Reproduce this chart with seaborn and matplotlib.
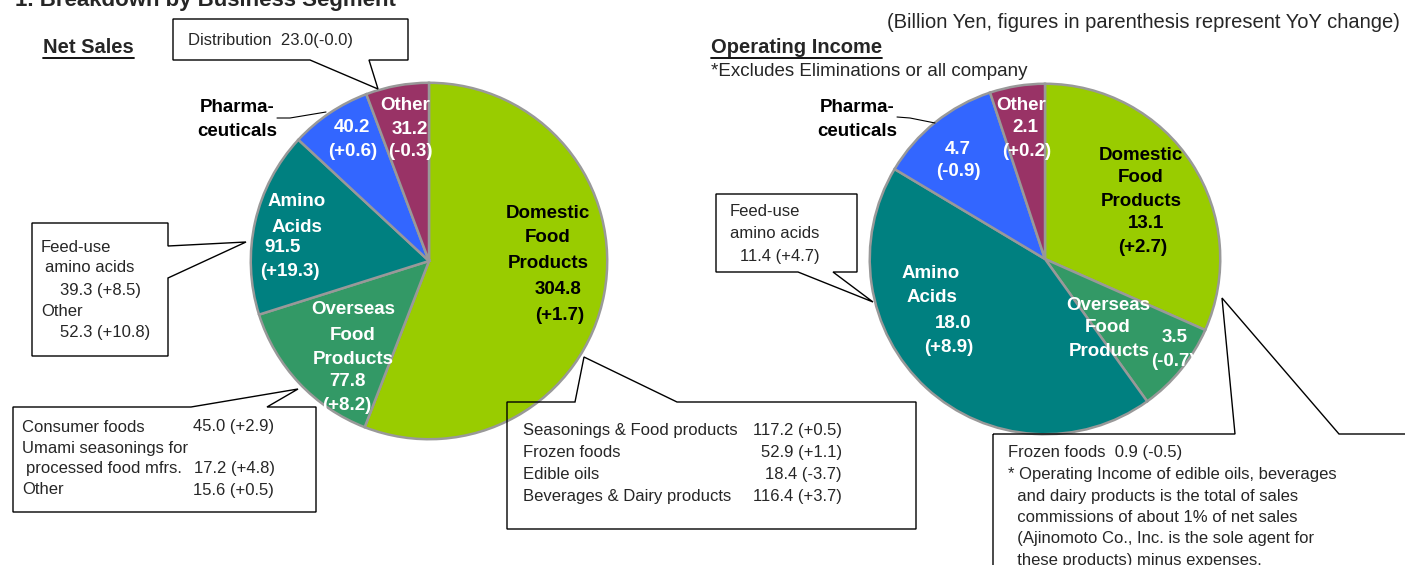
import numpy as np
import matplotlib
matplotlib.use("Agg")
import matplotlib.pyplot as plt
from matplotlib.patches import Polygon
import seaborn as sns

# ---- data (billion yen, YoY change) ----
segments = ["Domestic\nFood\nProducts", "Overseas\nFood\nProducts", "Amino\nAcids",
            "Pharma-\nceuticals", "Other"]
sales = [304.8, 77.8, 91.5, 40.2, 31.2]
sales_yoy = [1.7, 8.2, 19.3, 0.6, -0.3]
income = [13.1, 3.5, 18.0, 4.7, 2.1]
income_yoy = [2.7, -0.7, 8.9, -0.9, 0.2]
seg_colors = ["#99CC00", "#339966", "#008080", "#3366FF", "#993366"]

distribution = [23.0, -0.0]

amino_names = ["Feed-use\n amino acids", "Other"]
amino_sales = [39.3, 52.3]
amino_yoy = [8.5, 10.8]

overseas_names = ["Consumer foods", "Umami seasonings for\n processed food mfrs.", "Other"]
overseas_sales = [45.0, 17.2, 15.6]
overseas_yoy = [2.9, 4.8, 0.5]

domestic_names = ["Seasonings & Food products", "Frozen foods", "Edible oils",
                  "Beverages & Dairy products"]
domestic_sales = [117.2, 52.9, 18.4, 116.4]
domestic_yoy = [0.5, 1.1, -3.7, 3.7]

feed_income = [11.4, 4.7]
frozen_income = [0.9, -0.5]
income_note = ["* Operating Income of edible oils, beverages",
               "  and dairy products is the total of sales",
               "  commissions of about 1% of net sales",
               "  (Ajinomoto Co., Inc. is the sole agent for",
               "  these products) minus expenses."]

sns.set_theme(style="white")
plt.rcParams["font.family"] = ["Liberation Sans", "DejaVu Sans"]

W, H = 1405, 565
fig = plt.figure(figsize=(W / 100, H / 100), dpi=100)
palette = sns.color_palette(seg_colors)


def val(v, d):
    return f"{v:.1f}", f"({d:+.1f})"


def pie_axes(cx, cy, r, values):
    ax = fig.add_axes([(cx - r) / W, 1 - (cy + r) / H, 2 * r / W, 2 * r / H])
    ax.pie(values, colors=palette, startangle=90, counterclock=False,
           wedgeprops=dict(edgecolor="#999999", linewidth=1.8))
    ax.set_xlim(-1.01, 1.01)
    ax.set_ylim(-1.01, 1.01)
    ax.set_axis_off()
    return ax


pie_axes(429, 261, 180, sales)
pie_axes(1045, 259, 177, income)

# overlay in pixel coordinates for labels and callouts
ov = fig.add_axes([0, 0, 1, 1], zorder=5)
ov.set_xlim(0, W)
ov.set_ylim(H, 0)
ov.set_axis_off()
ov.patch.set_alpha(0)

bold = dict(fontsize=13.5, fontweight="bold", ha="center", va="center")

# in-slice label positions (pixel) for name lines, value, change
left_pos = [
    [(548, 213), (548, 238), (548, 263), (558, 290), (560, 315)],
    [(353, 310), (353, 335), (353, 360), (347, 381), (347, 405)],
    [(297, 202), (297, 227), (283, 247), (290, 271)],
    [(237, 107), (237, 131), (352, 127), (353, 151)],
    [(405, 105), (410, 130), (410, 152)],
]
right_pos = [
    [(1141, 155), (1141, 178), (1141, 201), (1146, 223), (1143, 247)],
    [(1108, 306), (1108, 328), (1109, 351), (1175, 338), (1173, 362)],
    [(931, 273), (932, 297), (953, 323), (949, 347)],
    [(857, 108), (857, 131), (958, 149), (958, 172)],
    [(1021, 106), (1025, 128), (1027, 152)],
]


def slice_labels(values, changes, positions):
    for i, (name, v, d, pos) in enumerate(zip(segments, values, changes, positions)):
        names = name.split("\n")
        lines = names + list(val(v, d))
        for j, (line, (x, y)) in enumerate(zip(lines, pos)):
            color = "black" if i == 0 else "white"
            if i == 3 and j < len(names):
                color = "black"
            ov.text(x, y, line, color=color, **bold)


slice_labels(sales, sales_yoy, left_pos)
slice_labels(income, income_yoy, right_pos)

# pharma leader lines
ov.plot([277, 290, 326], [118, 118, 112], color="black", lw=0.8)
ov.plot([897, 910, 935], [117, 118, 123], color="black", lw=0.8)


def callout(verts):
    ov.add_patch(Polygon(verts, closed=True, fill=False, edgecolor="black", lw=1.0))


callout([(173, 19), (408, 19), (408, 60), (369, 60), (378, 89), (310, 60), (173, 60)])
callout([(32, 223), (168, 223), (168, 246), (246, 242), (168, 278), (168, 356), (32, 356)])
callout([(13, 407), (191, 407), (298, 389), (267, 407), (316, 407), (316, 512), (13, 512)])
callout([(507, 402), (575, 402), (584, 357), (677, 402), (916, 402), (916, 529), (507, 529)])
callout([(716, 194), (857, 194), (857, 272), (833, 272), (873, 302), (798, 272), (716, 272)])
callout([(993, 434), (1235, 434), (1222, 298), (1339, 434), (1420, 434), (1420, 600), (993, 600)])

reg = dict(fontsize=12, va="center", ha="left")
ov.text(188, 40, f"Distribution  {distribution[0]:.1f}({distribution[1]:+.1f})", **reg)

# amino acids breakdown (net sales)
ov.text(41, 247, amino_names[0].split("\n")[0], **reg)
ov.text(45, 268, amino_names[0].split("\n")[1].strip(), **reg)
ov.text(60, 290, " ".join(val(amino_sales[0], amino_yoy[0])), **reg)
ov.text(41, 311, amino_names[1], **reg)
ov.text(60, 332, " ".join(val(amino_sales[1], amino_yoy[1])), **reg)

# overseas breakdown
ov.text(22, 427, overseas_names[0], **reg)
ov.text(193, 427, " ".join(val(overseas_sales[0], overseas_yoy[0])), **reg)
ov.text(22, 448, overseas_names[1].split("\n")[0], **reg)
ov.text(26, 469, overseas_names[1].split("\n")[1].strip(), **reg)
ov.text(194, 469, " ".join(val(overseas_sales[1], overseas_yoy[1])), **reg)
ov.text(22, 490, overseas_names[2], **reg)
ov.text(193, 490, " ".join(val(overseas_sales[2], overseas_yoy[2])), **reg)

# domestic breakdown
for k, (n, v, d) in enumerate(zip(domestic_names, domestic_sales, domestic_yoy)):
    y = 431 + k * 21.7
    ov.text(523, y, n, **reg)
    ov.text(842, y, " ".join(val(v, d)), fontsize=12, va="center", ha="right")

# operating income callouts
ov.text(730, 212, "Feed-use", **reg)
ov.text(730, 234, "amino acids", **reg)
ov.text(740, 256, " ".join(val(*feed_income)), **reg)

ov.text(1008, 453, "Frozen foods  " + " ".join(val(*frozen_income)), **reg)
for k, line in enumerate(income_note):
    ov.text(1008, 475 + k * 21.3, line, **reg)

# headers
ov.text(15, 6, "1. Breakdown by Business Segment", fontsize=16, fontweight="bold",
        ha="left", va="baseline")
ov.text(1400, 22, "(Billion Yen, figures in parenthesis represent YoY change)",
        fontsize=14.5, ha="right", va="center")
ov.text(711, 72, "*Excludes Eliminations or all company", fontsize=13.5, ha="left", va="center")

for x, y, s in [(43, 53, "Net Sales"), (711, 53, "Operating Income")]:
    t = ov.text(x, y, s, fontsize=14.5, fontweight="bold", ha="left", va="baseline")
    fig.canvas.draw()
    bb = t.get_window_extent()
    ov.plot([x, x + bb.width], [y + 4.5, y + 4.5], color="black", lw=1.3)

fig.savefig("out.png", dpi=100)
